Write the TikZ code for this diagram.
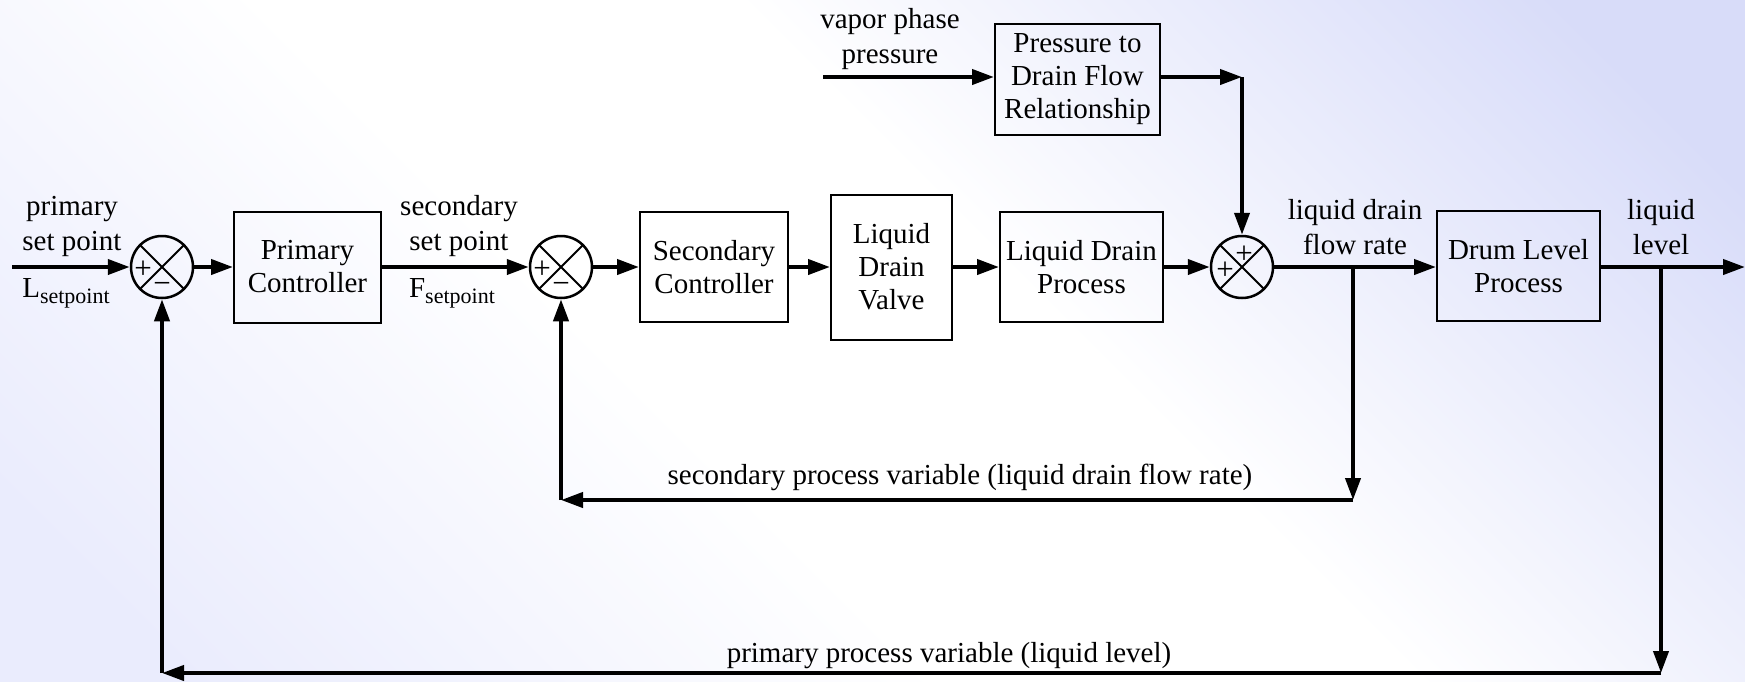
\documentclass[tikz,border=0pt]{standalone}
\usepackage{fontspec}
\setmainfont{Liberation Serif}
\usetikzlibrary{arrows.meta,calc}
\definecolor{bgA}{HTML}{EAECFD}
\definecolor{bgB}{HTML}{D8DCF9}
\pgfdeclarehorizontalshading{bgshade}{100bp}{color(0bp)=(bgA); color(20bp)=(bgA); color(42bp)=(white); color(56bp)=(white); color(80bp)=(bgB); color(100bp)=(bgB)}
\begin{document}
\begin{tikzpicture}[x=1pt,y=-1pt,
  blk/.style={draw, line width=2pt, align=center, inner sep=0pt, font=\rmfamily\fontsize{29}{33}\selectfont},
  sumnode/.style={draw, circle, line width=2.5pt, minimum size=62pt, inner sep=0pt,
    path picture={\draw[line width=2pt] (path picture bounding box.north west) -- (path picture bounding box.south east)
      (path picture bounding box.north east) -- (path picture bounding box.south west);}},
  lbl/.style={align=center, font=\rmfamily\fontsize{29}{35}\selectfont, inner sep=0pt},
  sgn/.style={font=\rmfamily\fontsize{31}{31}\selectfont, inner sep=0pt},
  sig/.style={line width=4pt, -{Triangle[length=22pt,width=15pt]}},
]
\useasboundingbox (0,0) rectangle (1745,681);
\shade[shading=bgshade, shading angle=45] (0,0) rectangle (1745,681);

% blocks
\node[blk, minimum width=147pt, minimum height=111pt] (pc) at (307.5,267) {Primary\\Controller};
\node[blk, minimum width=148pt, minimum height=110pt] (sc) at (714,267) {Secondary\\Controller};
\node[blk, minimum width=121pt, minimum height=145pt] (ldv) at (891.5,267) {Liquid\\Drain\\Valve};
\node[blk, minimum width=163pt, minimum height=110pt] (ldp) at (1081.5,267) {Liquid Drain\\Process};
\node[blk, minimum width=163pt, minimum height=110pt] (dlp) at (1518.5,266) {Drum Level\\Process};
\node[blk, minimum width=165pt, minimum height=111pt] (pdf) at (1077.5,79.5) {Pressure to\\Drain Flow\\Relationship};

% summing junctions
\node[sumnode] (s1) at (162,267) {};
\node[sumnode] (s2) at (561,267) {};
\node[sumnode] (s3) at (1242,267) {};
\node[sgn] (s1p) at ($(s1)+(-19,3)$) {+};
\node[sgn] (s1m) at ($(s1)+(0,21)$) {−};
\node[sgn] (s2p) at ($(s2)+(-19,3)$) {+};
\node[sgn] (s2m) at ($(s2)+(0,21)$) {−};
\node[sgn] (s3p) at ($(s3)+(-17,4)$) {+};
\node[sgn] (s3q) at ($(s3)+(2,-12)$) {+};

% coordinates
\coordinate (in) at (12,267);
\coordinate (out) at (1745,267);
\coordinate (vin) at (823,77);
\coordinate (vcor) at (1242,77);
\coordinate (b1) at (1353,267);
\coordinate (b1d) at (1353,500);
\coordinate (b1l) at (561,500);
\coordinate (b2) at (1661,267);
\coordinate (b2d) at (1661,673);
\coordinate (b2l) at (162,673);

% labels
\node[lbl] (lps) at (72,226) {primary\\set point};
\node[lbl, anchor=base] (lsp) at (66,297) {L\raisebox{-6pt}{\fontsize{22}{22}\selectfont setpoint}};
\node[lbl] (lss) at (459,226) {secondary\\set point};
\node[lbl, anchor=base] (fsp) at (452,297) {F\raisebox{-6pt}{\fontsize{22}{22}\selectfont setpoint}};
\node[lbl] (lvp) at (890,39) {vapor phase\\pressure};
\node[lbl] (lfr) at (1355,227) {liquid drain\\flow rate};
\node[lbl] (lll) at (1661,227) {liquid\\level};
\node[lbl] (lspv) at (960,477) {secondary process variable (liquid drain flow rate)};
\node[lbl] (lppv) at (949,656) {primary process variable (liquid level)};

% forward path
\draw[sig] (in) -- (s1.west);
\draw[sig] (s1.east) -- (pc.west);
\draw[sig] (pc.east) -- (s2.west);
\draw[sig] (s2.east) -- (sc.west);
\draw[sig] (sc.east) -- (ldv.west);
\draw[sig] (ldv.east) -- (ldp.west);
\draw[sig] (ldp.east) -- (s3.west);
\draw[sig] (s3.east) -- (dlp.west |- s3.east);
\draw[sig] (dlp.east |- out) -- (out);

% disturbance path
\draw[sig] (vin) -- (pdf.west |- vin);
\draw[sig] (pdf.east |- vin) -- (vcor);
\draw[sig] (vcor) -- (s3.north);

% secondary feedback
\draw[sig] (b1) -- (b1d);
\draw[sig] (b1d) -- (b1l);
\draw[sig] (b1l) -- (s2.south);

% primary feedback
\draw[sig] (b2) -- (b2d);
\draw[sig] (b2d) -- (b2l);
\draw[sig] (b2l) -- (s1.south);
\end{tikzpicture}
\end{document}
